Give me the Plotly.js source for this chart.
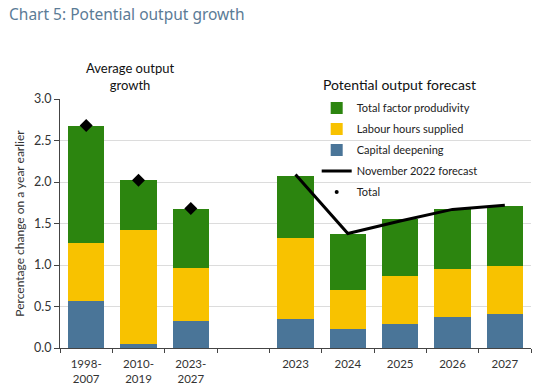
<!DOCTYPE html>
<html>
<head>
<meta charset="utf-8">
<script src="https://cdn.plot.ly/plotly-3.0.1.min.js"></script>
<style>html,body{margin:0;padding:0;background:#fff;}#chart{width:539px;height:391px;}</style>
</head>
<body>
<div id="chart"></div>
<script>
const categories = ["1998-<br>2007", "2010-<br>2019", "2023-<br>2027", " ", "2023", "2024", "2025", "2026", "2027"];
const capitalDeepening = [0.57, 0.05, 0.33, null, 0.35, 0.23, 0.29, 0.375, 0.415];
const labourHours = [0.70, 1.37, 0.63, null, 0.97, 0.47, 0.58, 0.575, 0.575];
const totalFactorProductivity = [1.40, 0.60, 0.715, null, 0.75, 0.67, 0.68, 0.73, 0.72];
const totalCategories = ["1998-<br>2007", "2010-<br>2019", "2023-<br>2027"];
const totalValues = [2.68, 2.02, 1.68];
const nov2022Categories = ["2023", "2024", "2025", "2026", "2027"];
const nov2022Values = [2.09, 1.38, 1.53, 1.67, 1.72];

const fontFam = "Lato, 'DejaVu Sans', sans-serif";
const traces = [
  {type: "bar", name: "Capital deepening", x: categories, y: capitalDeepening,
   marker: {color: "#4a7598"}, legendrank: 3, legendgroup: "c", hoverinfo: "skip"},
  {type: "bar", name: "Labour hours supplied", x: categories, y: labourHours,
   marker: {color: "#f8c200"}, legendrank: 2, legendgroup: "l", hoverinfo: "skip"},
  {type: "bar", name: "Total factor produdivity", x: categories, y: totalFactorProductivity,
   marker: {color: "#2c850f"}, legendrank: 1, legendgroup: "t", hoverinfo: "skip"},
  {type: "scatter", mode: "lines", name: "November 2022 forecast", x: nov2022Categories, y: nov2022Values,
   line: {color: "#000", width: 3}, legendrank: 4, legendgroup: "n"},
  {type: "scatter", mode: "markers", name: "Total", x: totalCategories, y: totalValues,
   marker: {symbol: "diamond", size: 10, color: "#000"}, showlegend: false, legendgroup: "tot"},
  {type: "scatter", mode: "markers", name: "Total", x: [null], y: [null],
   marker: {symbol: "circle", size: 4, color: "#000"}, legendrank: 5, legendgroup: "tot2"}
];

const layout = {
  width: 539, height: 391,
  margin: {l: 60, r: 8, t: 99, b: 43},
  paper_bgcolor: "#fff", plot_bgcolor: "#fff",
  barmode: "stack", bargap: 0.31,
  font: {family: fontFam, color: "#333", size: 11},
  showlegend: true,
  legend: {x: 0.545, y: 1.022, xanchor: "left", yanchor: "top", bgcolor: "rgba(0,0,0,0)",
           traceorder: "grouped", font: {size: 11, color: "#222"}, itemwidth: 30, tracegroupgap: 2},
  xaxis: {type: "category", categoryorder: "array", categoryarray: categories,
          range: [-0.5, 8.5], tickson: "boundaries", ticks: "outside", ticklen: 4,
          tickcolor: "#444", showline: true, linecolor: "#444", linewidth: 1,
          showgrid: false, tickfont: {size: 11.5, color: "#333"}, ticklabelstandoff: 5, fixedrange: true},
  yaxis: {range: [0, 3], dtick: 0.5, tickformat: ".1f", ticks: "outside", ticklen: 5,
          tickcolor: "#444", showline: true, linecolor: "#444", linewidth: 1,
          showgrid: true, gridcolor: "#dcdcdc", gridwidth: 1, zeroline: false,
          tickfont: {size: 12.5, color: "#333"},
          title: {text: "Percentage change on a year earlier", font: {size: 12, color: "#333"}, standoff: 6}},
  annotations: [
    {text: "Chart 5: Potential output growth", xref: "paper", yref: "paper",
     x: -0.1125, y: 1.34, xanchor: "left", yanchor: "middle", showarrow: false,
     font: {family: "'Noto Sans', 'Open Sans', sans-serif", size: 15.5, color: "#5b7b96"}},
    {text: "Average output<br>growth", xref: "paper", yref: "paper",
     x: 0.149, y: 1.016, xanchor: "center", yanchor: "bottom", showarrow: false,
     font: {size: 13, color: "#111"}},
    {text: "Potential output forecast", xref: "paper", yref: "paper",
     x: 0.72, y: 1.016, xanchor: "center", yanchor: "bottom", showarrow: false,
     font: {size: 14, color: "#111"}}
  ]
};

Plotly.newPlot("chart", traces, layout, {displayModeBar: false, staticPlot: true});
</script>
</body>
</html>
